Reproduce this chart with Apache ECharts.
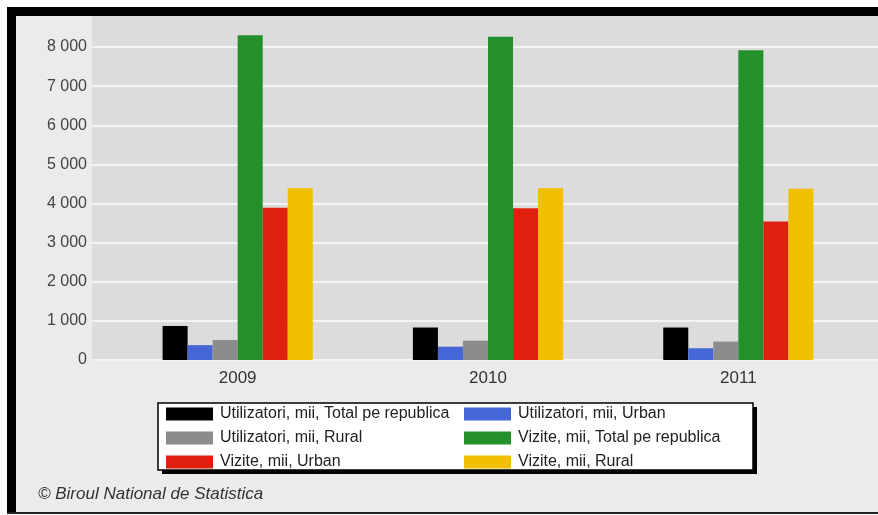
<!DOCTYPE html>
<html>
<head>
<meta charset="utf-8">
<title>Utilizatori si vizite</title>
<script src="https://cdn.jsdelivr.net/npm/echarts@6/dist/echarts.min.js"></script>
<style>
  html, body { margin: 0; padding: 0; background: #ffffff; }
  #chart { width: 878px; height: 515px; }
</style>
</head>
<body>
<div id="chart"></div>
<script>
// Years on the category axis
var years = ['2009', '2010', '2011'];

// Series names (legend order)
var seriesNames = [
  'Utilizatori, mii, Total pe republica',
  'Utilizatori, mii, Urban',
  'Utilizatori, mii, Rural',
  'Vizite, mii, Total pe republica',
  'Vizite, mii, Urban',
  'Vizite, mii, Rural'
];

// Values, thousands
var utilizatoriTotal = [870, 830, 830];
var utilizatoriUrban = [380, 340, 300];
var utilizatoriRural = [510, 495, 470];
var viziteTotal = [8300, 8260, 7920];
var viziteUrban = [3890, 3880, 3540];
var viziteRural = [4390, 4390, 4380];

// Y-axis tick values
var yTicks = [0, 1000, 2000, 3000, 4000, 5000, 6000, 7000, 8000];

var seriesValues = [utilizatoriTotal, utilizatoriUrban, utilizatoriRural, viziteTotal, viziteUrban, viziteRural];
var seriesColors = ['#000000', '#4466d6', '#8c8c8c', '#24902c', '#e0200e', '#f0c000'];

function fmt(v) {
  return String(v).replace(/\B(?=(\d{3})+(?!\d))/g, ' ');
}

var chart = echarts.init(document.getElementById('chart'), null, { renderer: 'canvas' });

var FONT = 'Liberation Sans, Arial, sans-serif';

var series = seriesNames.map(function (name, i) {
  return {
    name: name,
    type: 'bar',
    xAxisIndex: 1,
    yAxisIndex: 1,
    data: seriesValues[i],
    barGap: '0%',
    barCategoryGap: '40%',
    clip: false,
    itemStyle: { color: seriesColors[i] },
    emphasis: { disabled: true }
  };
});

var legendCommon = {
  orient: 'vertical',
  top: 406,
  itemWidth: 47,
  itemHeight: 13,
  itemGap: 8,
  icon: 'rect',
  selectedMode: false,
  textStyle: { fontFamily: FONT, fontSize: 16, color: '#222', padding: [0, 0, 0, 2] },
  padding: 0
};

var option = {
  backgroundColor: '#ffffff',
  animation: false,
  textStyle: { fontFamily: FONT },
  graphic: [
    // page panel
    { type: 'rect', shape: { x: 7, y: 7, width: 871, height: 507 }, style: { fill: '#ebebeb' }, z: -20, silent: true },
    // frame bands
    { type: 'rect', shape: { x: 7, y: 7, width: 871, height: 9 }, style: { fill: '#000000' }, z: 50, silent: true },
    { type: 'rect', shape: { x: 7, y: 7, width: 9, height: 507 }, style: { fill: '#000000' }, z: 50, silent: true },
    { type: 'rect', shape: { x: 7, y: 512, width: 871, height: 2 }, style: { fill: '#222222' }, z: 50, silent: true },
    // plot strip above the top tick
    { type: 'rect', shape: { x: 92, y: 16, width: 786, height: 31 }, style: { fill: '#dcdcdc' }, z: -10, silent: true },
    // legend box shadow and box
    { type: 'rect', shape: { x: 162, y: 407, width: 595, height: 67 }, style: { fill: '#000000' }, z: 5, silent: true },
    { type: 'rect', shape: { x: 158, y: 403, width: 595, height: 67 }, style: { fill: '#ffffff', stroke: '#000000', lineWidth: 1.5 }, z: 6, silent: true },
    // footer
    {
      type: 'text', left: 38, top: 486, z: 20, silent: true,
      style: { text: '\u00A9 Biroul National de Statistica', fill: '#333333', font: 'italic 17px ' + FONT }
    }
  ],
  legend: [
    Object.assign({}, legendCommon, { left: 166, data: [seriesNames[0], seriesNames[2], seriesNames[4]], z: 10 }),
    Object.assign({}, legendCommon, { left: 464, data: [seriesNames[1], seriesNames[3], seriesNames[5]], z: 10 })
  ],
  grid: [
    // full-width plot background and gridlines
    { left: 92, right: 0, top: 47, height: 313, show: true, backgroundColor: '#dcdcdc', borderWidth: 0 },
    // bar area
    { left: 112.5, width: 751, top: 47, height: 313, show: false }
  ],
  xAxis: [
    { type: 'category', gridIndex: 0, data: years, show: false },
    {
      type: 'category', gridIndex: 1, data: years,
      axisLine: { show: false }, axisTick: { show: false },
      axisLabel: { color: '#333333', fontSize: 17, margin: 10, fontFamily: FONT },
      splitLine: { show: false }
    }
  ],
  yAxis: [
    {
      type: 'value', gridIndex: 0, min: 0, max: 8000, interval: 1000,
      axisLine: { show: false }, axisTick: { show: false },
      axisLabel: {
        color: '#444444', fontSize: 16, margin: 5, fontFamily: FONT,
        formatter: function (v) { return yTicks.indexOf(v) >= 0 ? fmt(v) : ''; }
      },
      splitLine: { show: true, lineStyle: { color: '#f4f4f4', width: 2 } }
    },
    {
      type: 'value', gridIndex: 1, min: 0, max: 8000, interval: 1000,
      show: false, splitLine: { show: false }
    }
  ],
  series: series
};

chart.setOption(option);
</script>
</body>
</html>
